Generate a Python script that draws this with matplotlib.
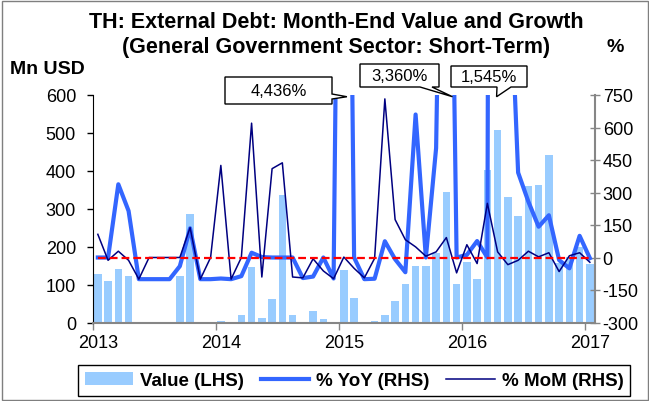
import numpy as np
import matplotlib
matplotlib.use("Agg")
import matplotlib.pyplot as plt
from matplotlib.patches import Polygon, Rectangle, Patch
from matplotlib.lines import Line2D

plt.rcParams['font.family'] = ['Liberation Sans', 'DejaVu Sans']
plt.rcParams['axes.unicode_minus'] = False

# monthly series, Jan 2013 .. Jan 2017
value = [127, 109, 141, 122, 0, 0, 0, 0, 122, 285, 0, 2,
         4, 0, 20, 146, 13, 63, 337, 20, 0, 31, 10, 0,
         138, 65, 0, 3, 21, 57, 101, 150, 150, 183, 344, 101,
         160, 114, 401, 507, 331, 280, 359, 363, 442, 158, 172, 200,
         153]
yoy = [0, 0, 338, 215, -100, -100, -100, -100, -40, 135, -100, -100,
       -97, -100, -86, 22, 2, 0, 0, 0, -95, -88, 0, -97,
       4436, 0, -100, -98, 75, -8, -68, 660, 0, 505, 3360, 0,
       12, 76, 0, 16800, 1545, 392, 258, 142, 195, -12, -50, 100,
       -3]
mom = [107, -13, 29, -13, -100, 0, 0, 0, 0, 138, -100, 0,
       425, -100, 0, 620, -90, 410, 437, -90, -94, -6, -62, -98,
       2, -50, -94, -4, 732, 175, 82, 49, 6, 26, 92, -71,
       59, -28, 250, 26, -33, -13, 29, 3, 22, -65, 8, 22,
       -22]
years = ['2013', '2014', '2015', '2016', '2017']
legend_labels = ['Value (LHS)', '% YoY (RHS)', '% MoM (RHS)']
callout_text = ['4,436%', '3,360%', '1,545%']
callout_at = [24.8, 35.1, 39.4]   # month position the pointer ends at

W, H = 649, 402
def fx(px):
    return px / W
def fy(py):
    return 1 - py / H

fig = plt.figure(figsize=(W / 100, H / 100), dpi=100)
ax = fig.add_axes([fx(92.7), fy(323.5), (595 - 92.7) / W, (323.5 - 96) / H])

n = len(value)
x = np.arange(n) + 0.5
ax.bar(x, value, width=0.74, color='#99CCFF', linewidth=0, zorder=1)
ax.set_xlim(0, n)
ax.set_ylim(0, 600)
ax.set_yticks(np.arange(0, 601, 100))

ax.set_xticks(np.arange(0, n, 12))
ax.set_xticklabels([])
ax.set_xticks(np.arange(0, n, 12) + 0.5, minor=True)
ax.set_xticklabels(years, minor=True)
ax.tick_params(axis='x', which='major', direction='out', length=5, width=1, color='#868686')
ax.tick_params(axis='x', which='minor', length=0, labelsize=13, pad=8)
ax.tick_params(axis='y', direction='out', length=4, width=1, labelsize=13, pad=8)

ax2 = ax.twinx()
ax2.plot(x, yoy, color='#3366FF', lw=3.0, zorder=2)
ax2.plot(x, mom, color='#000080', lw=1.1, zorder=3)
ax2.plot(x[[0, -1]], [0, 0], color='red', lw=1.6, ls=(0, (3.5, 1.8)), zorder=4)
ax2.set_ylim(-300, 750)
ax2.set_yticks(np.arange(-300, 751, 150))
ax2.tick_params(axis='y', direction='inout', length=7, width=1, labelsize=13, pad=2, color='#868686')

for a in (ax, ax2):
    a.spines['top'].set_visible(False)
ax.spines['right'].set_visible(False)
ax2.spines['left'].set_visible(False)
ax2.spines['bottom'].set_visible(False)
ax.spines['left'].set_color('black')
ax.spines['bottom'].set_color('#868686')
ax.spines['bottom'].set_linewidth(1.5)
ax2.spines['right'].set_color('#868686')
ax2.spines['right'].set_linewidth(1.5)

# titles
fig.text(fx(336), fy(23), 'TH: External Debt: Month-End Value and Growth',
         ha='center', va='center', fontsize=15.5, fontweight='bold')
fig.text(fx(336), fy(47), '(General Government Sector: Short-Term)',
         ha='center', va='center', fontsize=15.5, fontweight='bold')
fig.text(fx(10), fy(70), 'Mn USD', ha='left', va='center', fontsize=14, fontweight='bold')
fig.text(fx(615), fy(47), '%', ha='center', va='center', fontsize=14, fontweight='bold')

# callouts for off-scale YoY values
boxes = [(225, 78, 332, 105), (360, 65, 439, 88), (451, 67, 527, 88)]
bases = [('right', 95, 100), ('bottom', 420, 432), ('bottom', 497, 511)]
for txt, cx, (x0, y0, x1, y1), (side, b0, b1) in zip(callout_text, callout_at, boxes, bases):
    dx, dy = ax2.transData.transform((cx, 742))
    tip = (dx, H - dy)
    if side == 'right':
        pts = [(x0, y0), (x1, y0), (x1, b0), tip, (x1, b1), (x1, y1), (x0, y1)]
    else:
        pts = [(x0, y0), (x1, y0), (x1, y1), (b1, y1), tip, (b0, y1), (x0, y1)]
    poly = Polygon([(fx(px), fy(py)) for px, py in pts], closed=True,
                   transform=fig.transFigure, facecolor='white', edgecolor='black',
                   lw=1, zorder=5)
    fig.add_artist(poly)
    fig.text(fx((x0 + x1) / 2), fy((y0 + y1) / 2), txt, ha='center', va='center',
             fontsize=12, zorder=6)

handles = [Patch(facecolor='#99CCFF', edgecolor='none'),
           Line2D([], [], color='#3366FF', lw=3.0),
           Line2D([], [], color='#000080', lw=1.1)]
leg = fig.legend(handles, legend_labels, loc='center',
                 bbox_to_anchor=(fx(354), fy(381.5)), ncol=3, frameon=True,
                 fancybox=False, edgecolor='black', framealpha=1,
                 prop={'weight': 'bold', 'size': 13.5}, handlelength=2.6,
                 handletextpad=0.35, columnspacing=0.9, borderpad=0.35)
leg.get_frame().set_linewidth(1)

fig.add_artist(Rectangle((fx(1.5), fy(400.5)), 646 / W, 399 / H, transform=fig.transFigure,
                         fill=False, edgecolor='#7f7f7f', lw=1))

fig.savefig('out.png', dpi=100)
